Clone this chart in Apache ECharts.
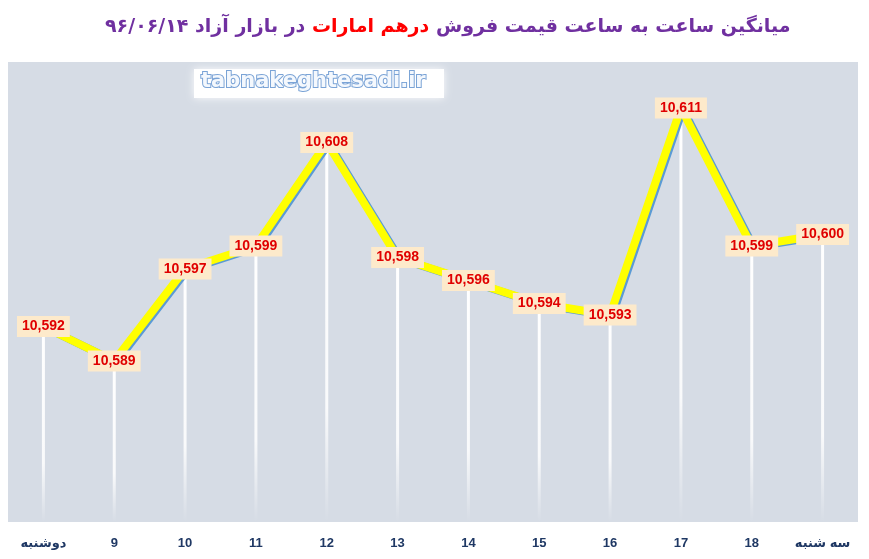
<!DOCTYPE html>
<html>
<head>
<meta charset="utf-8">
<script src="https://cdn.jsdelivr.net/npm/echarts@6/dist/echarts.min.js"></script>
<style>html,body{margin:0;padding:0;background:#fff}#c{width:869px;height:559px}</style>
</head>
<body>
<div id="c"></div>
<script>
var categories = ['دوشنبه', '9', '10', '11', '12', '13', '14', '15', '16', '17', '18', 'سه شنبه'];
var prices = [10592, 10589, 10597, 10599, 10608, 10598, 10596, 10594, 10593, 10611, 10599, 10600];
var titleLeftPart = 'در بازار آزاد ۹۶/۰۶/۱۴ ';
var titleRedPart = 'درهم امارات';
var titleRightPart = ' میانگین ساعت به ساعت قیمت فروش';
var watermark = 'tabnakeghtesadi.ir';

var chart = echarts.init(document.getElementById('c'));
chart.setOption({
  backgroundColor: '#ffffff',
  animation: false,
  title: {
    left: 100,
    top: 13,
    text: '{a|' + titleLeftPart + '}{b|' + titleRedPart + '}{a|' + titleRightPart + '}',
    textStyle: {
      rich: {
        a: { color: '#7030a0', fontSize: 19, fontWeight: 'bold', fontFamily: 'DejaVu Sans' },
        b: { color: '#ff0000', fontSize: 19, fontWeight: 'bold', fontFamily: 'DejaVu Sans' }
      }
    }
  },
  grid: {
    left: 8, right: 11, top: 62, bottom: 37,
    show: true, backgroundColor: '#d6dce5', borderWidth: 0
  },
  xAxis: {
    type: 'category',
    data: categories,
    boundaryGap: true,
    axisLine: { show: false },
    axisTick: { show: false },
    splitLine: { show: false },
    axisLabel: {
      interval: 0,
      color: '#1f3864', fontWeight: 'bold', fontSize: 13, margin: 15,
      fontFamily: 'Liberation Sans Narrow, Liberation Sans, DejaVu Sans'
    }
  },
  yAxis: {
    type: 'value', min: 10575, max: 10615, show: false,
    splitLine: { show: false }
  },
  graphic: [
    {
      type: 'rect', left: 194, top: 69, z: 10,
      shape: { width: 250, height: 29 },
      style: { fill: '#ffffff', shadowBlur: 8, shadowColor: 'rgba(255,255,255,0.9)' }
    },
    {
      type: 'text', left: 200, top: 70, z: 11,
      style: {
        text: watermark,
        font: 'bold 21px "DejaVu Sans"',
        fill: '#f4f8fd',
        stroke: '#7aa3d6',
        lineWidth: 2
      }
    }
  ],
  series: [
    {
      type: 'bar',
      data: prices,
      barWidth: 3,
      z: 1,
      itemStyle: {
        color: new echarts.graphic.LinearGradient(0, 0, 0, 1, [
          { offset: 0, color: 'rgba(255,255,255,1)' },
          { offset: 0.7, color: 'rgba(255,255,255,0.85)' },
          { offset: 1, color: 'rgba(255,255,255,0)' }
        ])
      },
      silent: true
    },
    {
      type: 'line',
      data: prices,
      z: 3,
      symbol: 'circle',
      symbolSize: 1,
      itemStyle: { color: '#ffff00' },
      lineStyle: {
        color: '#ffff00', width: 8,
        shadowColor: '#5b9bd5', shadowOffsetX: 2, shadowOffsetY: 1, shadowBlur: 0
      },
      label: {
        show: true,
        position: 'inside',
        formatter: function (p) { return p.value.toLocaleString('en-US'); },
        color: '#e00000',
        fontSize: 14,
        fontWeight: 'bold',
        fontFamily: 'Liberation Sans, DejaVu Sans',
        backgroundColor: '#fdeacb',
        padding: [4, 5, 3, 5]
      }
    }
  ]
});
</script>
</body>
</html>
